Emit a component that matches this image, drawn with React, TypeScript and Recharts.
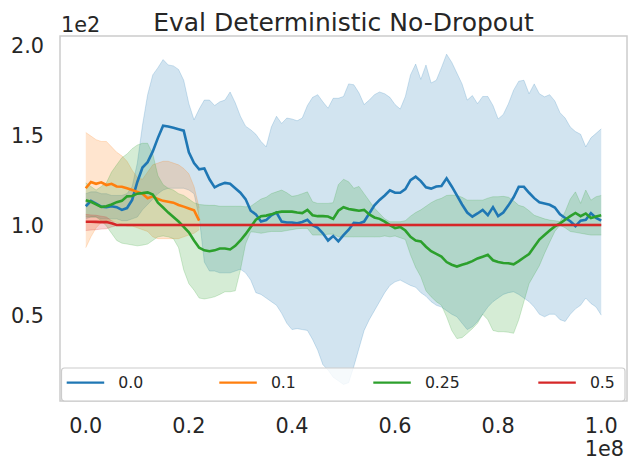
import { ComposedChart, Area, Line, XAxis, YAxis } from 'recharts';

// environment steps, in units of 1e8
const steps = [
  0, 0.01, 0.02, 0.03, 0.04, 0.05, 0.06, 0.07, 0.08, 0.09,
  0.1, 0.11, 0.12, 0.13, 0.14, 0.15, 0.16, 0.17, 0.18, 0.19,
  0.2, 0.21, 0.22, 0.23, 0.24, 0.25, 0.26, 0.27, 0.28, 0.29,
  0.3, 0.31, 0.32, 0.33, 0.34, 0.35, 0.36, 0.37, 0.38, 0.39,
  0.4, 0.41, 0.42, 0.43, 0.44, 0.45, 0.46, 0.47, 0.48, 0.49,
  0.5, 0.51, 0.52, 0.53, 0.54, 0.55, 0.56, 0.57, 0.58, 0.59,
  0.6, 0.61, 0.62, 0.63, 0.64, 0.65, 0.66, 0.67, 0.68, 0.69,
  0.7, 0.71, 0.72, 0.73, 0.74, 0.75, 0.76, 0.77, 0.78, 0.79,
  0.8, 0.81, 0.82, 0.83, 0.84, 0.85, 0.86, 0.87, 0.88, 0.89,
  0.9, 0.91, 0.92, 0.93, 0.94, 0.95, 0.96, 0.97, 0.98, 0.99, 1.0,
];

// dropout 0.0
const mean00 = [
  111, 114, 112.5, 110.8, 110.5, 111, 110.5, 109, 110, 114.5,
  124.5, 132.5, 135.5, 141.5, 149, 155.8, 155.3, 154.6, 153.8, 153,
  141, 135, 131.5, 132, 126, 121.5, 123, 124, 123.5, 121,
  118.5, 115, 108.5, 106.5, 102.5, 103.3, 106, 107.5, 102.5, 102,
  102, 101.5, 102.3, 103.5, 100.5, 99, 96, 92, 94.5, 91.5,
  95, 98, 101.8, 101.5, 102.5, 107, 111.5, 114.5, 117, 119.8,
  118.5, 118.5, 120.5, 125.5, 127.4, 125, 121.5, 120.8, 122, 122.3,
  126.5, 122, 117, 112, 107.5, 105.2, 107, 109, 106, 110.5,
  105.5, 107.5, 111.5, 116, 121.8, 121.8, 118.5, 115.5, 113.2, 112.5,
  111.8, 110.3, 106.5, 104.5, 102.7, 100, 103, 103.5, 107.2, 104.5, 103,
];
const low00 = [
  104, 105, 105, 104, 104, 104, 104, 103, 103, 104,
  105, 109, 112, 115, 118, 120, 121, 121, 121, 121,
  120, 118, 105, 80, 75, 75, 74, 74, 74, 75,
  76, 74, 70, 63, 62, 60, 58, 56, 51.5, 46,
  42.5, 43, 42.5, 42, 37, 31, 23, 20, 16, 14,
  12, 13, 22, 32, 42, 48, 53, 58, 63, 67,
  69, 70, 68.5, 67, 66, 63, 61, 58, 56, 55,
  53, 51, 49.6, 46, 42.5, 44, 47, 51, 55, 58,
  60, 62, 63, 63.5, 62, 60, 58, 55, 51, 49.6,
  51, 51, 48, 47, 51, 54, 56, 60, 57, 55, 50.5,
];
const high00 = [
  118, 119, 119, 118, 118, 117, 117, 117, 118, 122,
  135, 156, 173, 184, 188, 192.5, 189.5, 189, 187, 181,
  168, 159, 165, 170, 170, 167, 169, 170, 174.5, 168.5,
  161, 155.5, 153.5, 151, 147, 144, 155, 161, 157, 160,
  159.5, 158.5, 160, 167, 171.5, 173, 169, 165.5, 171, 171,
  172, 179, 178.5, 174, 167.5, 170, 173, 174.5, 173.5, 171.5,
  167.5, 165, 172, 184, 190, 181.5, 189.5, 179.5, 181, 188,
  195.5, 191, 185, 179, 170, 172.5, 168, 172, 172, 167,
  159.5, 162, 168, 175.5, 180.5, 181, 173.5, 179, 173.5, 171.8,
  173, 169.5, 163, 160, 155, 152.5, 151, 144, 149, 151.5, 154,
];

// dropout 0.1 (run stops early)
const mean01 = [
  121, 124.5, 123.5, 124.3, 122.8, 123.5, 122, 121.8, 121, 120,
  119, 118, 115.5, 116.5, 115, 114, 113.5, 113, 111.7, 110.8,
  109.8, 108.8, 103,
];
const low01 = [
  88, 94, 99, 102, 103, 103, 102, 101, 100, 100,
  99, 98, 97, 94, 93, 93, 93, 93, 93, 94,
  95, 96, 98,
];
const high01 = [
  152, 150, 148, 147, 147, 144, 141, 139, 136, 131,
  127, 126, 130, 134, 135, 136, 136, 135, 134, 132,
  129, 122, 110,
];

// dropout 0.25
const mean025 = [
  114.4, 113.5, 112, 110.6, 111, 112, 113.3, 114, 116.5, 116.7,
  118, 118.3, 118.7, 117.5, 113, 110.3, 107.5, 105, 102.5, 99.5,
  96.5, 92, 88, 86.5, 86, 86.5, 87.5, 87.5, 87, 89,
  92, 95.5, 99.5, 103.5, 105.5, 105.8, 106.5, 107.5, 108, 108,
  108, 107.5, 107.2, 109, 106, 105.5, 105.5, 105.3, 104, 108.5,
  110.5, 109.5, 109, 108.5, 109, 106.5, 104.8, 104, 102.5, 100.5,
  98.8, 99.5, 97.5, 94, 92, 91.5, 88.5, 86, 84.5, 83,
  80, 78.5, 77.5, 78.5, 79.3, 80.5, 82, 83, 84, 81,
  80, 79.5, 79.3, 78.7, 80.5, 82.5, 84.5, 88.5, 92.5, 95,
  97.5, 99.8, 101.5, 103.5, 105.5, 107.3, 105.5, 107, 104.5, 105.3, 106,
];
const low025 = [
  105, 105, 105, 103, 100, 96, 92, 90.5, 90, 89.5,
  89, 89.4, 90, 92, 94, 94.5, 94, 93, 88, 75.6,
  68, 64.4, 60, 59.5, 60, 60.7, 62, 63.5, 63.5, 64,
  75.6, 90, 96.8, 96.5, 96, 96.5, 97, 97, 97, 97.5,
  98, 98.5, 98.7, 98.7, 95, 95, 95, 95.5, 95.5, 94,
  94, 94, 94, 94, 94, 94, 94, 94, 94.5, 94,
  94.5, 93.5, 92.5, 84, 77, 71.8, 64, 60.7, 58, 56,
  49.6, 42, 37.5, 38, 40.4, 43, 46, 51, 48, 42,
  41.3, 41.3, 41, 40.4, 48, 58, 68, 73, 78, 84.8,
  91, 97, 100.5, 99, 97, 96.5, 96, 95.5, 95, 95, 95,
];
const high025 = [
  124, 122, 120, 122, 124, 130, 134, 138, 140, 143,
  145, 146, 146, 140, 128, 123, 121, 120, 118, 117,
  115, 113, 112, 111.7, 111.5, 111.5, 111, 111, 111, 111,
  111, 110.7, 111, 113, 115, 116, 118, 119, 120, 118.5,
  116.5, 117, 118, 119, 113.5, 112.6, 112.6, 112.6, 113, 123,
  126, 124.6, 121, 122, 118, 114, 110, 107, 104, 102.4,
  102.4, 102.4, 103, 105.5, 107.5, 109, 111, 113, 114.5, 115.4,
  117, 117.2, 117, 116, 114.4, 114.4, 114.4, 114.4, 115.5, 116.3,
  116.3, 116.5, 116, 114, 111.5, 110.7, 108.5, 106, 105, 104,
  103.3, 103, 102.5, 108, 115, 119, 112.6, 120, 114.4, 116.3, 117,
];

// dropout 0.5
const mean05 = [
  102.4, 102.4, 102.3, 102.2, 102.2, 101.5, 100.6, 100.6, 100.6, 100.6,
  100.6, 100.6, 100.6, 100.6, 100.6, 100.6, 100.6, 100.6, 100.6, 100.6,
  100.6, 100.6, 100.6, 100.6, 100.6, 100.6, 100.6, 100.6, 100.6, 100.6,
  100.6, 100.6, 100.6, 100.6, 100.6, 100.6, 100.6, 100.6, 100.6, 100.6,
  100.6, 100.6, 100.6, 100.6, 100.6, 100.6, 100.6, 100.6, 100.6, 100.6,
  100.6, 100.6, 100.6, 100.6, 100.6, 100.6, 100.6, 100.6, 100.6, 100.6,
  100.6, 100.6, 100.6, 100.6, 100.6, 100.6, 100.6, 100.6, 100.6, 100.6,
  100.6, 100.6, 100.6, 100.6, 100.6, 100.6, 100.6, 100.6, 100.6, 100.6,
  100.6, 100.6, 100.6, 100.6, 100.6, 100.6, 100.6, 100.6, 100.6, 100.6,
  100.6, 100.6, 100.6, 100.6, 100.6, 100.6, 100.6, 100.6, 100.6, 100.6, 100.6,
];
const low05 = [
  97.5, 97.8, 98, 98.3, 98.5, 99.5, 100.2, 100.2, 100.2, 100.2,
  100.2, 100.2, 100.2, 100.2, 100.2, 100.2, 100.2, 100.2, 100.2, 100.2,
  100.2, 100.2, 100.2, 100.2, 100.2, 100.2, 100.2, 100.2, 100.2, 100.2,
  100.2, 100.2, 100.2, 100.2, 100.2, 100.2, 100.2, 100.2, 100.2, 100.2,
  100.2, 100.2, 100.2, 100.2, 100.2, 100.2, 100.2, 100.2, 100.2, 100.2,
  100.2, 100.2, 100.2, 100.2, 100.2, 100.2, 100.2, 100.2, 100.2, 100.2,
  100.2, 100.2, 100.2, 100.2, 100.2, 100.2, 100.2, 100.2, 100.2, 100.2,
  100.2, 100.2, 100.2, 100.2, 100.2, 100.2, 100.2, 100.2, 100.2, 100.2,
  100.2, 100.2, 100.2, 100.2, 100.2, 100.2, 100.2, 100.2, 100.2, 100.2,
  100.2, 100.2, 100.2, 100.2, 100.2, 100.2, 100.2, 100.2, 100.2, 100.2, 100.2,
];
const high05 = [
  106.5, 106.2, 106, 105.5, 105, 103, 101, 101, 101, 101,
  101, 101, 101, 101, 101, 101, 101, 101, 101, 101,
  101, 101, 101, 101, 101, 101, 101, 101, 101, 101,
  101, 101, 101, 101, 101, 101, 101, 101, 101, 101,
  101, 101, 101, 101, 101, 101, 101, 101, 101, 101,
  101, 101, 101, 101, 101, 101, 101, 101, 101, 101,
  101, 101, 101, 101, 101, 101, 101, 101, 101, 101,
  101, 101, 101, 101, 101, 101, 101, 101, 101, 101,
  101, 101, 101, 101, 101, 101, 101, 101, 101, 101,
  101, 101, 101, 101, 101, 101, 101, 101, 101, 101, 101,
];

const xTicks = [0, 0.2, 0.4, 0.6, 0.8, 1.0];
const yTicks = [50, 100, 150, 200];

const series = [
  { key: 's0', name: '0.0', color: '#1f77b4', mean: mean00, low: low00, high: high00 },
  { key: 's1', name: '0.1', color: '#ff7f0e', mean: mean01, low: low01, high: high01 },
  { key: 's2', name: '0.25', color: '#2ca02c', mean: mean025, low: low025, high: high025 },
  { key: 's3', name: '0.5', color: '#d62728', mean: mean05, low: low05, high: high05 },
];

const rows = steps.map((x, i) => {
  const row: Record<string, any> = { x };
  series.forEach((s) => {
    const ok = i < s.mean.length;
    row[s.key] = ok ? s.mean[i] : null;
    row[s.key + 'band'] = ok ? [s.low[i], s.high[i]] : null;
  });
  return row;
});

const FONT = 'DejaVu Sans';
const TEXT = '#262626';
const EDGE = '#cccccc';

// legend slots (line start x) inside the legend frame
const legendX = [66.7, 219.3, 373.3, 538.3];

export default function App() {
  return (
    <div style={{ position: 'absolute', left: 0, top: 0, width: 635, height: 474, background: '#fff' }}>
      <ComposedChart
        width={635}
        height={474}
        data={rows}
        margin={{ top: 36, right: 8, bottom: 0, left: 0 }}
        style={{ fontFamily: FONT }}
      >
        <XAxis
          dataKey="x"
          type="number"
          domain={[-0.05, 1.05]}
          ticks={xTicks}
          allowDataOverflow
          height={73}
          axisLine={false}
          tickLine={false}
          tickSize={0}
          tickMargin={17}
          tickFormatter={(v: number) => v.toFixed(1)}
          tick={{ fill: TEXT, fontSize: 20.8, fontFamily: FONT }}
        />
        <YAxis
          type="number"
          domain={[2.8, 205.6]}
          ticks={yTicks}
          allowDataOverflow
          width={60}
          axisLine={false}
          tickLine={false}
          tickSize={0}
          tickMargin={16}
          tickFormatter={(v: number) => (v / 100).toFixed(1)}
          tick={{ fill: TEXT, fontSize: 20.8, fontFamily: FONT }}
        />
        {series.map((s) => (
          <Area
            key={s.key + 'band'}
            dataKey={s.key + 'band'}
            type="linear"
            fill={s.color}
            fillOpacity={0.2}
            stroke={s.color}
            strokeOpacity={0.2}
            strokeWidth={1}
            dot={false}
            activeDot={false}
            isAnimationActive={false}
          />
        ))}
        {series.map((s) => (
          <Line
            key={s.key}
            dataKey={s.key}
            type="linear"
            stroke={s.color}
            strokeWidth={2.6}
            dot={false}
            activeDot={false}
            isAnimationActive={false}
          />
        ))}
      </ComposedChart>

      <svg
        width={635}
        height={474}
        style={{ position: 'absolute', left: 0, top: 0, pointerEvents: 'none', fontFamily: FONT }}
      >
        <rect x={60} y={36} width={567} height={365} fill="none" stroke={EDGE} strokeWidth={1.5} />
        <text x={343.5} y={31} textAnchor="middle" fontSize={25} fill={TEXT}>
          Eval Deterministic No-Dropout
        </text>
        <text x={61} y={32} fontSize={20.8} fill={TEXT}>1e2</text>
        <text x={624} y={456} textAnchor="end" fontSize={20.8} fill={TEXT}>1e8</text>

        <rect x={61.5} y={368} width={563.5} height={33} rx={3} fill="#ffffff" fillOpacity={0.8} stroke={EDGE} strokeWidth={1.2} />
        {series.map((s, i) => (
          <g key={s.key}>
            <line x1={legendX[i]} x2={legendX[i] + 37.5} y1={382.7} y2={382.7} stroke={s.color} strokeWidth={2.2} />
            <text x={legendX[i] + 51.6} y={388.3} fontSize={15.7} fill={TEXT}>{s.name}</text>
          </g>
        ))}
      </svg>
    </div>
  );
}
